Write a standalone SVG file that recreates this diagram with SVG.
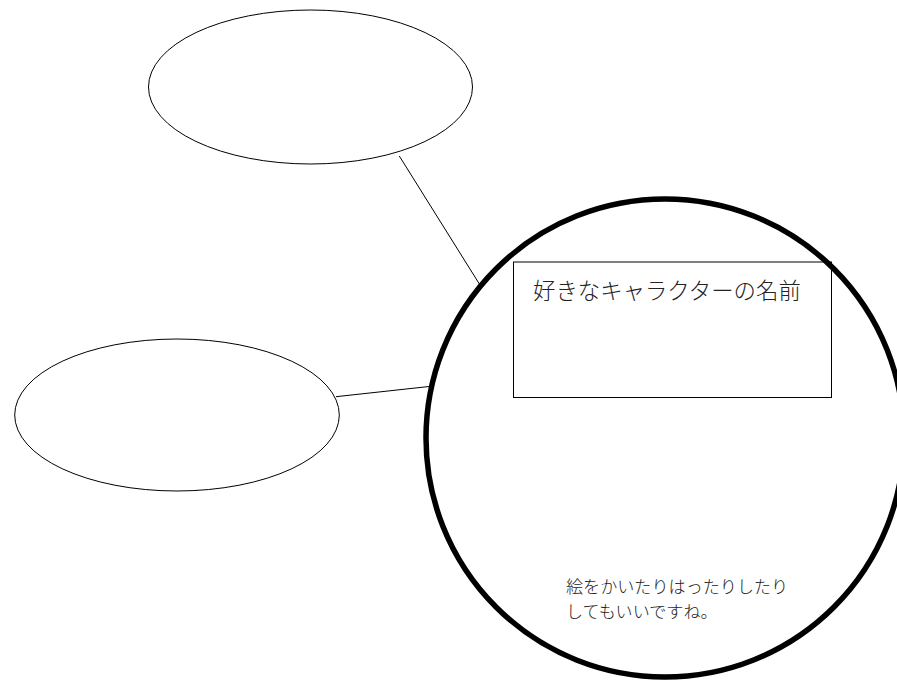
<svg xmlns="http://www.w3.org/2000/svg" width="897" height="683" viewBox="0 0 897 683">
  <style>
    .thin { fill: #ffffff; stroke: #000000; stroke-width: 1; }
    .conn { stroke: #000000; stroke-width: 1; fill: none; }
    .big { fill: #ffffff; stroke: #000000; stroke-width: 5.5; }
    .jp { font-family: "Noto Sans CJK JP", "Noto Sans CJK SC", sans-serif; fill: #222222; font-weight: 300; }
  </style>
  <rect x="0" y="0" width="897" height="683" fill="#ffffff"/>
  <g id="connectors">
    <line class="conn" x1="399.3" y1="156" x2="480" y2="285"/>
    <line class="conn" x1="336" y1="396.7" x2="429" y2="386.5"/>
  </g>
  <g id="node-top-ellipse">
    <ellipse class="thin" cx="310.5" cy="87" rx="162" ry="77"/>
  </g>
  <g id="node-left-ellipse">
    <ellipse class="thin" cx="177" cy="415" rx="162.3" ry="76"/>
  </g>
  <g id="node-main-circle">
    <circle class="big" cx="665" cy="438" r="239"/>
    <text class="jp" x="566" y="593" font-size="17.1">絵をかいたりはったりしたり</text>
    <text class="jp" x="566" y="618" font-size="17.1">してもいいですね。</text>
  </g>
  <g id="node-name-box">
    <rect x="513.5" y="262" width="318" height="135.5" fill="none" stroke="#000000" stroke-width="1"/>
    <text class="jp" x="533" y="299" font-size="22.4">好きなキャラクターの名前</text>
  </g>
</svg>
